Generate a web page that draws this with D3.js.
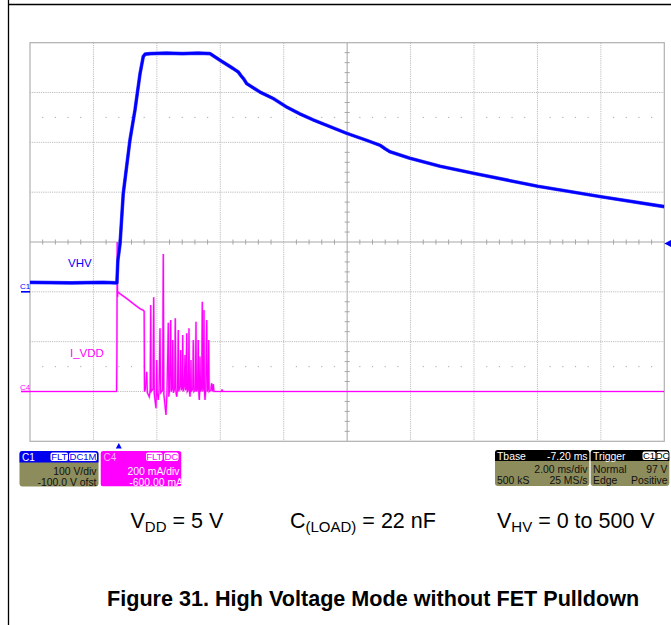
<!DOCTYPE html>
<html><head><meta charset="utf-8">
<script src="https://cdn.jsdelivr.net/npm/d3@7/dist/d3.min.js"></script>
<style>html,body{margin:0;padding:0;background:#fff}svg{display:block}</style>
</head><body>
<script>
// ---------- data ----------
// time in ms relative to trigger, 2 ms/div, Tbase -7.20 ms
const timeDomain = [-2.8, 17.2];
// C1: 100 V/div, -100 V offset  -> screen spans -300..500 V
const voltDomain = [-300, 500];
// C4: 200 mA/div, -600 mA offset -> screen spans -200..1400 mA
const currDomain = [-200, 1400];

const vhvT = [-2.8,-1.5,-0.5,-0.06,-0.03,0.04,0.14,0.35,0.51,0.67,0.77,0.83,1.0,1.5,2.0,2.5,2.88,3.19,3.61,3.77,3.85,3.93,4.03,4.45,4.87,5.29,5.71,6.13,7.19,7.82,8.24,8.40,8.55,9.18,10.13,11.18,12.34,13.21,15.21,17.2];
const vhvV = [19,18,19,18,63,97,197,304,365,438,472,477,478,479,478,479,478,465,448,441,434,428,418,401,388,371,357,345,318,304,294,287,281,268,252,238,223,212,191,171];

const ivddT = [-2.8,-0.07,-0.06,-0.05,-0.04,-0.03,0.04,0.26,0.46,0.67,0.77,0.80,0.81,
 0.84,0.88,0.90,0.96,0.99,1.006,1.02,1.08,1.10,1.12,1.173,1.185,1.195,1.21,1.245,1.27,1.299,1.32,1.38,1.403,1.42,1.488,1.52,1.561,1.575,1.60,1.636,1.65,1.68,1.70,1.72,1.76,1.781,1.80,1.826,1.85,1.876,1.89,1.93,1.952,1.97,2.00,2.015,2.03,2.06,2.087,2.10,2.12,2.141,2.16,2.19,2.213,2.23,2.245,2.26,2.276,2.29,2.33,2.349,2.37,2.41,2.434,2.45,2.48,2.507,2.52,2.538,2.55,2.56,2.58,2.61,2.633,2.65,2.67,2.686,2.70,2.718,2.74,2.772,2.79,2.815,2.835,2.85,2.90,2.929,2.95,2.98,3.00,3.24,3.254,3.27,17.2];
const ivddI = [0,0,150,600,380,400,392,372,352,332,326,322,0,
 10,79,-5,-21,5,347,0,10,378,-10,-67,0,126,-5,-34,5,254,-5,5,552,-10,-94,0,276,-21,5,287,0,10,207,-5,10,294,0,-21,10,247,0,20,166,5,15,227,0,20,146,5,10,234,0,5,254,0,-21,10,126,0,10,207,0,5,280,0,10,207,0,-34,5,140,0,10,360,0,15,327,0,-34,5,287,0,10,207,0,5,33,0,30,0,0,8,0,0];

const c1Info = ["100 V/div", "-100.0 V ofst"];
const c4Info = ["200 mA/div", "-600.00 mA"];
const tbaseInfo = ["-7.20 ms", "2.00 ms/div", "500 kS", "25 MS/s"];
const trigInfo = ["Normal", "97 V", "Edge", "Positive"];
const trigLevel = 97;  // V
const captions = ["V", "DD", " = 5 V", "C", "(LOAD)", " = 22 nF", "V", "HV", " = 0 to 500 V"];
const title = "Figure 31. High Voltage Mode without FET Pulldown";

// ---------- layout ----------
const W = 671, H = 625;
const L = 30, R = 664.3, T = 42.7, B = 441.3;
const FONT = "'Liberation Sans', Arial, sans-serif";

const svg = d3.select("body").append("svg").attr("width", W).attr("height", H);
svg.append("rect").attr("width", W).attr("height", H).attr("fill", "#fff");

// page frame
svg.append("line").attr("x1", 8).attr("x2", W).attr("y1", 4.5).attr("y2", 4.5).attr("stroke", "#000").attr("stroke-width", 1.3);
svg.append("line").attr("x1", 8.5).attr("x2", 8.5).attr("y1", 0).attr("y2", H).attr("stroke", "#000").attr("stroke-width", 1.3);

const x = d3.scaleLinear().domain(timeDomain).range([L, R]);
const yV = d3.scaleLinear().domain(voltDomain).range([B, T]);
const yI = d3.scaleLinear().domain(currDomain).range([B, T]);

const g = svg.append("g");
// major grid (dotted)
const xDiv = d3.range(0, 11).map(i => timeDomain[0] + i * 2);
const yDiv = d3.range(0, 9).map(i => voltDomain[0] + i * 100);
const tC = 7.2, vC = 100;
g.selectAll(".gx").data(xDiv.slice(1, -1).filter(d => Math.abs(d - tC) > 1e-6)).join("line")
  .attr("x1", d => x(d)).attr("x2", d => x(d)).attr("y1", T).attr("y2", B)
  .attr("stroke", "#bdbdbd").attr("stroke-dasharray", "1.2,1").attr("stroke-width", 1);
g.selectAll(".gy").data(yDiv.slice(1, -1).filter(d => Math.abs(d - vC) > 1e-6)).join("line")
  .attr("x1", L).attr("x2", R).attr("y1", d => yV(d)).attr("y2", d => yV(d))
  .attr("stroke", "#bdbdbd").attr("stroke-dasharray", "1.2,1").attr("stroke-width", 1);
// center axes
g.append("line").attr("x1", x(tC)).attr("x2", x(tC)).attr("y1", T).attr("y2", B).attr("stroke", "#a6a6a6");
g.append("line").attr("x1", L).attr("x2", R).attr("y1", yV(vC)).attr("y2", yV(vC)).attr("stroke", "#a6a6a6");
// minor ticks on center axes
const xMinor = d3.range(1, 50).map(i => timeDomain[0] + i * 0.4).filter(d => Math.abs((d - timeDomain[0]) / 2 - Math.round((d - timeDomain[0]) / 2)) > 1e-6);
const yMinor = d3.range(1, 40).map(i => voltDomain[0] + i * 20).filter(d => Math.abs(d / 100 - Math.round(d / 100)) > 1e-6);
g.selectAll(".tx").data(xMinor).join("line")
  .attr("x1", d => x(d)).attr("x2", d => x(d)).attr("y1", yV(vC) - 2.5).attr("y2", yV(vC) + 2.5).attr("stroke", "#a6a6a6");
g.selectAll(".ty").data(yMinor).join("line")
  .attr("y1", d => yV(d)).attr("y2", d => yV(d)).attr("x1", x(tC) - 2.5).attr("x2", x(tC) + 2.5).attr("stroke", "#a6a6a6");
// dotted rows at +/-2.5 div
[vC + 250, vC - 250].forEach(v => {
  g.selectAll(null).data(xMinor).join("rect")
    .attr("x", d => x(d) - 0.6).attr("y", yV(v) - 0.6).attr("width", 1.2).attr("height", 1.2).attr("fill", "#b4b4b4");
});
// border
g.append("rect").attr("x", L).attr("y", T).attr("width", R - L).attr("height", B - T)
  .attr("fill", "none").attr("stroke", "#b0b0b0").attr("stroke-width", 1.2);

// traces
svg.append("clipPath").attr("id", "plotclip").append("rect").attr("x", L).attr("y", T).attr("width", R - L).attr("height", B - T);
const tr = svg.append("g").attr("clip-path", "url(#plotclip)");
const ivdd = ivddT.map((t, i) => [t, ivddI[i]]);
const vhv = vhvT.map((t, i) => [t, vhvV[i]]);
tr.append("path").datum(ivdd)
  .attr("d", d3.line().x(d => x(d[0])).y(d => yI(d[1])))
  .attr("fill", "none").attr("stroke", "#ff55ff").attr("stroke-width", 2.2).attr("opacity", 0.5);
tr.append("path").datum(ivdd)
  .attr("d", d3.line().x(d => x(d[0])).y(d => yI(d[1])))
  .attr("fill", "none").attr("stroke", "#ff00ff").attr("stroke-width", 1.2);
tr.append("path").datum(vhv)
  .attr("d", d3.line().x(d => x(d[0])).y(d => yV(d[1])))
  .attr("fill", "none").attr("stroke", "#5050ff").attr("stroke-width", 3.6).attr("stroke-linejoin", "round");
tr.append("path").datum(vhv)
  .attr("d", d3.line().x(d => x(d[0])).y(d => yV(d[1])))
  .attr("fill", "none").attr("stroke", "#0000ff").attr("stroke-width", 2.6).attr("stroke-linejoin", "round");

// trace labels
svg.append("text").attr("x", 68).attr("y", 266.5).attr("font-family", FONT).attr("font-size", 11.5).attr("fill", "#0000ff").text("VHV");
svg.append("text").attr("x", 70).attr("y", 356.5).attr("font-family", FONT).attr("font-size", 11.5).attr("fill", "#ff00ff").text("I_VDD");
// ground markers
svg.append("text").attr("x", 20).attr("y", 289).attr("font-family", FONT).attr("font-size", 8).attr("fill", "#0000ff").text("C1");
svg.append("line").attr("x1", 21).attr("x2", L).attr("y1", yV(0)).attr("y2", yV(0)).attr("stroke", "#0000ff").attr("stroke-width", 1.6);
svg.append("text").attr("x", 20).attr("y", 389.5).attr("font-family", FONT).attr("font-size", 8).attr("fill", "#ff00ff").text("C4");
svg.append("line").attr("x1", 21).attr("x2", L).attr("y1", yI(0)).attr("y2", yI(0)).attr("stroke", "#ff00ff").attr("stroke-width", 1.6);
// trigger position / level markers
const tx0 = x(0);
svg.append("path").attr("d", `M${tx0},443 L${tx0 + 3},448.5 L${tx0 - 3},448.5 Z`).attr("fill", "#0000ff");
const ty0 = yV(trigLevel);
svg.append("path").attr("d", `M${R},${ty0} L${W},${ty0 - 3.5} L${W},${ty0 + 3.5} Z`).attr("fill", "#0000ff");

// ---------- info boxes ----------
const OLIVE = "#8c8c5c";
function tag(gp, x0, x1, y0, y1, label, fg) {
  gp.append("rect").attr("x", x0).attr("y", y0).attr("width", x1 - x0).attr("height", y1 - y0).attr("rx", 2).attr("fill", "#fff");
  gp.append("text").attr("x", (x0 + x1) / 2).attr("y", y1 - 1.5).attr("text-anchor", "middle")
    .attr("font-family", FONT).attr("font-size", 9.5).attr("fill", fg).text(label);
}
function txt(gp, xx, yy, s, anchor, fill, fs) {
  gp.append("text").attr("x", xx).attr("y", yy).attr("text-anchor", anchor || "start")
    .attr("font-family", FONT).attr("font-size", fs || 10).attr("fill", fill || "#111").text(s);
}
// C1
{
  const b = svg.append("g");
  b.append("rect").attr("x", 19.5).attr("y", 451).attr("width", 79).attr("height", 35.5).attr("rx", 3).attr("fill", OLIVE);
  b.append("path").attr("d", "M19.5,462.5 V454 Q19.5,451 22.5,451 H95.5 Q98.5,451 98.5,454 V462.5 Z").attr("fill", "#0000ee");
  txt(b, 22, 460.5, "C1", "start", "#fff", 10);
  tag(b, 50.5, 68, 452.5, 461, "FLT", "#0000ee");
  tag(b, 69, 97, 452.5, 461, "DC1M", "#0000ee");
  txt(b, 96.5, 475, c1Info[0], "end", "#111", 10.4);
  txt(b, 96.5, 485.5, c1Info[1], "end", "#111", 10.4);
}
// C4
{
  svg.append("clipPath").attr("id", "c4clip").append("rect").attr("x", 100.5).attr("y", 451).attr("width", 81).attr("height", 35.5);
  const b = svg.append("g").attr("clip-path", "url(#c4clip)");
  b.append("rect").attr("x", 100.5).attr("y", 451).attr("width", 81).attr("height", 35.5).attr("rx", 3).attr("fill", "#ff00ff");
  txt(b, 103.5, 460.5, "C4", "start", "#ffb0ff", 10);
  tag(b, 146, 162.5, 452.5, 461, "FLT", "#ff00ff");
  tag(b, 164, 178.5, 452.5, 461, "DC", "#ff00ff");
  txt(b, 179.5, 475, c4Info[0], "end", "#fff", 10.4);
  txt(b, 183, 485.5, c4Info[1], "end", "#fff", 10.4);
}
// Tbase
{
  const b = svg.append("g");
  b.append("rect").attr("x", 495).attr("y", 450).attr("width", 94.3).attr("height", 36).attr("rx", 3).attr("fill", OLIVE);
  b.append("path").attr("d", "M495,461 V453 Q495,450 498,450 H586.3 Q589.3,450 589.3,453 V461 Z").attr("fill", "#000");
  txt(b, 497, 459.5, "Tbase", "start", "#fff", 10.4);
  txt(b, 587.5, 459.5, tbaseInfo[0], "end", "#fff", 10.4);
  txt(b, 587.5, 472.5, tbaseInfo[1], "end", "#111", 10.4);
  txt(b, 497, 483.5, tbaseInfo[2], "start", "#111", 10.4);
  txt(b, 587.5, 483.5, tbaseInfo[3], "end", "#111", 10.4);
}
// Trigger
{
  const b = svg.append("g");
  b.append("rect").attr("x", 590.7).attr("y", 450).attr("width", 78.6).attr("height", 36).attr("rx", 3).attr("fill", OLIVE);
  b.append("path").attr("d", "M590.7,461 V453 Q590.7,450 593.7,450 H666.3 Q669.3,450 669.3,453 V461 Z").attr("fill", "#000");
  txt(b, 593, 459.5, "Trigger", "start", "#fff", 10.4);
  tag(b, 642.5, 655.5, 451.5, 460, "C1", "#000");
  tag(b, 656.5, 668.5, 451.5, 460, "DC", "#000");
  txt(b, 593, 472.5, trigInfo[0], "start", "#111", 10.4);
  txt(b, 667.5, 472.5, trigInfo[1], "end", "#111", 10.4);
  txt(b, 593, 483.5, trigInfo[2], "start", "#111", 10.4);
  txt(b, 667.5, 483.5, trigInfo[3], "end", "#111", 10.4);
}

// ---------- captions ----------
function capt(x0, parts) {
  const t = svg.append("text").attr("x", x0).attr("y", 528.3).attr("font-family", FONT).attr("font-size", 21.5).attr("fill", "#000");
  t.append("tspan").text(parts[0]);
  t.append("tspan").attr("font-size", 15).attr("dy", 3.5).text(parts[1]);
  t.append("tspan").attr("dy", -3.5).text(parts[2]);
}
capt(130.5, captions.slice(0, 3));
capt(290, captions.slice(3, 6));
capt(497, captions.slice(6, 9));
svg.append("text").attr("x", 107).attr("y", 606).attr("font-family", FONT).attr("font-size", 21.6)
  .attr("font-weight", "bold").attr("fill", "#000").text(title);
</script>
</body></html>
